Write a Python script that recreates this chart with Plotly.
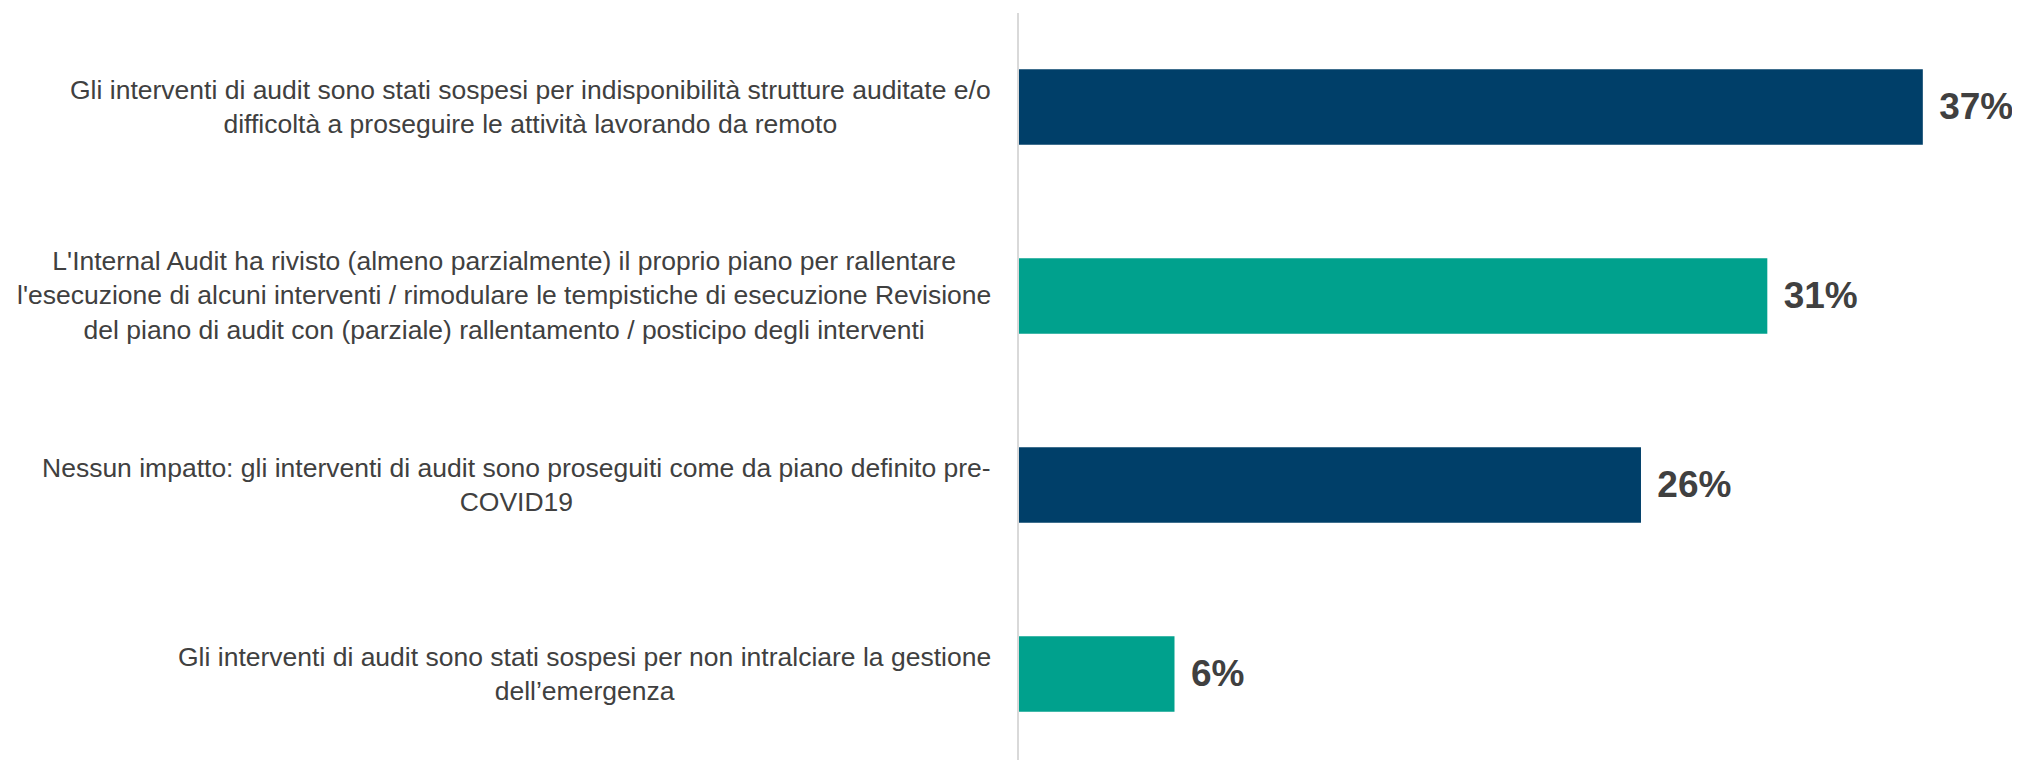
import plotly.graph_objects as go

categories = [
    "Gli interventi di audit sono stati sospesi per indisponibilità strutture auditate e/o<br>difficoltà a proseguire le attività lavorando da remoto",
    "L'Internal Audit ha rivisto (almeno parzialmente) il proprio piano per rallentare<br>l'esecuzione di alcuni interventi / rimodulare le tempistiche di esecuzione Revisione<br>del piano di audit con (parziale) rallentamento / posticipo degli interventi",
    "Nessun impatto: gli interventi di audit sono proseguiti come da piano definito pre-<br>COVID19",
    "Gli interventi di audit sono stati sospesi per non intralciare la gestione<br>dell’emergenza",
]
values = [37.2, 30.8, 25.6, 6.4]
colors = ["#003F69", "#00A18D", "#003F69", "#00A18D"]

keys = [f"c{i}" for i in range(len(categories))]

fig = go.Figure(
    go.Bar(
        y=keys,
        x=values,
        orientation="h",
        marker=dict(color=colors, line=dict(width=0)),
        texttemplate=" \u200a%{x:.0f}%",
        textposition="outside",
        cliponaxis=False,
        textfont=dict(family="Liberation Sans, Arial, sans-serif", size=37, color="#404040", weight="bold"),
        hoverinfo="skip",
    )
)

for k, lab in zip(keys, categories):
    fig.add_annotation(
        x=0, xref="paper", y=k, yref="y",
        text=lab, showarrow=False,
        xanchor="right", yanchor="middle", align="center",
        xshift=-26,
        font=dict(family="Liberation Sans, Arial, sans-serif", size=26.5, color="#404040"),
    )

fig.update_layout(
    width=2012, height=752,
    margin=dict(l=1011, r=0, t=5, b=0),
    paper_bgcolor="white", plot_bgcolor="white",
    showlegend=False,
    bargap=0.6,
    xaxis=dict(range=[0, 41.2], visible=False, showgrid=False, zeroline=False),
    yaxis=dict(
        type="category",
        categoryorder="array", categoryarray=keys,
        range=[3.455, -0.497],
        showticklabels=False, showgrid=False, zeroline=False,
        showline=True, linecolor="#D9D9D9", linewidth=2, ticks="",
    ),
)

fig.write_html("out.html")
